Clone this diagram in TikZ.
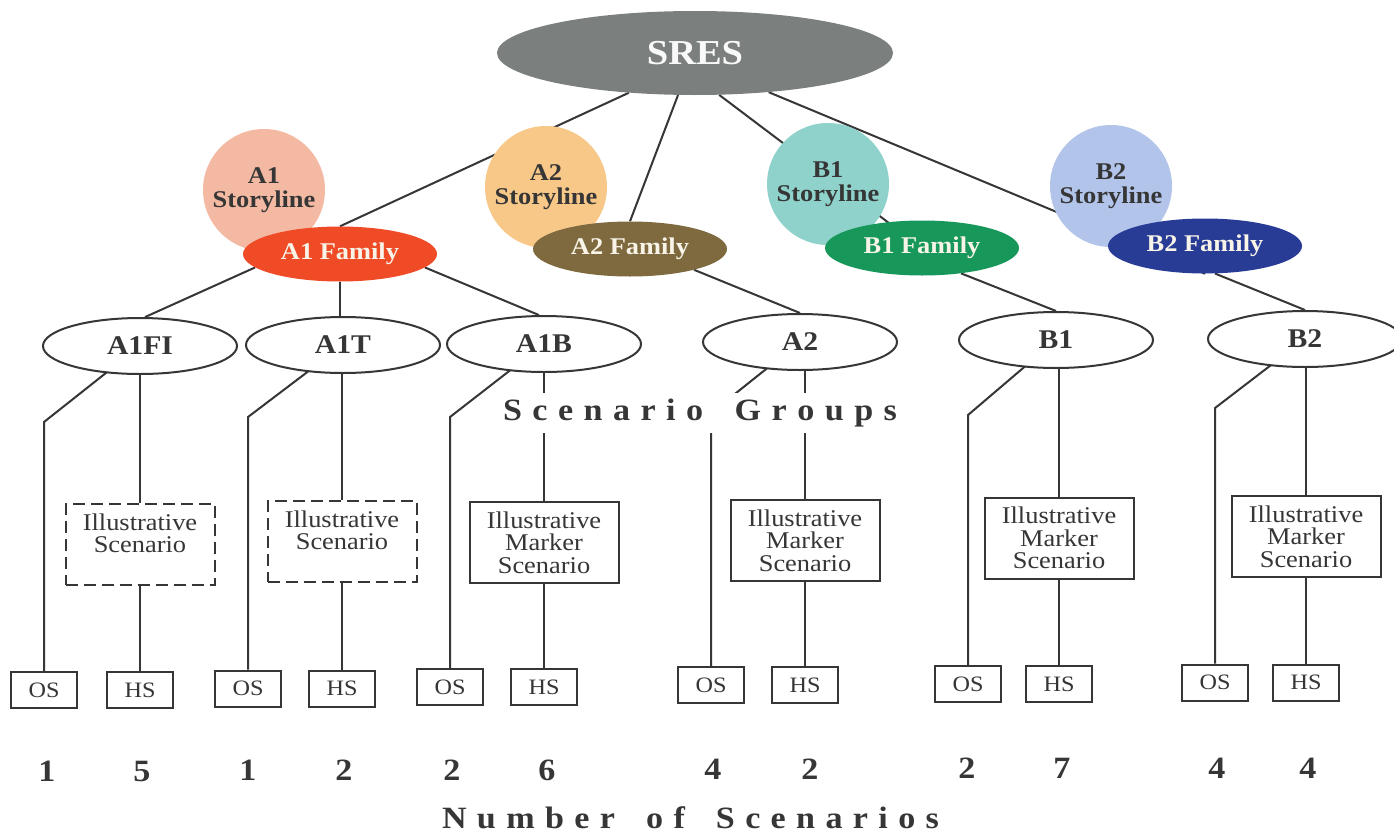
\documentclass[tikz,border=0pt]{standalone}
\usepackage{fontspec}
\setmainfont{Liberation Serif}[FakeStretch=1.1]
\usetikzlibrary{shapes.geometric,calc}
\pgfdeclarelayer{bg}
\pgfdeclarelayer{edges}
\pgfsetlayers{bg,edges,main}
\definecolor{ink}{HTML}{363636}
\definecolor{sresc}{HTML}{7B807F}
\definecolor{a1s}{HTML}{F3B9A2}
\definecolor{a2s}{HTML}{F8C889}
\definecolor{b1s}{HTML}{8ED2CB}
\definecolor{b2s}{HTML}{B3C4EA}
\definecolor{a1f}{HTML}{EE4B26}
\definecolor{a2f}{HTML}{7F6A40}
\definecolor{b1f}{HTML}{17985A}
\definecolor{b2f}{HTML}{283C96}
\definecolor{famtxt}{HTML}{F8F4E8}
\newcommand\LSg{\hskip 0pt plus 1fil}
\newcommand\WSg{\hskip 0pt plus 3fil}
\tikzset{
  conn/.style={draw=ink, line width=2pt},
  slnode/.style={circle, inner sep=0pt, minimum size=122pt, align=center,
    font=\fontsize{24}{24}\selectfont\bfseries, text=ink},
  famnode/.style={ellipse, inner sep=0pt, minimum width=194pt, minimum height=55pt,
    font=\fontsize{24}{24}\selectfont\bfseries, text=famtxt},
  grpnode/.style={ellipse, draw=ink, line width=2pt, fill=white, minimum width=194pt,
    minimum height=56pt, inner sep=0pt, font=\fontsize{27}{27}\selectfont\bfseries, text=ink},
  illbox/.style={rectangle, draw=ink, line width=2pt, fill=white, minimum width=149pt,
    minimum height=81pt, align=center, font=\fontsize{24}{22.5}\selectfont, text=ink, inner sep=0pt},
  illdash/.style={illbox, dash pattern=on 12pt off 6pt},
  smallbox/.style={rectangle, draw=ink, line width=2pt, fill=white, minimum width=66pt,
    minimum height=36pt, inner sep=0pt, font=\fontsize{22}{22}\selectfont, text=ink},
  numtxt/.style={anchor=base, inner sep=0pt, font=\fontsize{31}{31}\selectfont\bfseries, text=ink},
}
\begin{document}
\begin{tikzpicture}[x=1pt,y=-1pt]
\useasboundingbox (0,0) rectangle (1394,835);
\begin{pgfonlayer}{bg}
\fill[white] (0,0) rectangle (1394,835);
\end{pgfonlayer}

% storyline circles
\node[slnode, fill=a1s] (a1sl) at (264,190) {A1\\Storyline};
\node[slnode, fill=a2s] (a2sl) at (546,187) {A2\\Storyline};
\node[slnode, fill=b1s] (b1sl) at (828,184) {B1\\Storyline};
\node[slnode, fill=b2s] (b2sl) at (1111,186) {B2\\Storyline};

% families
\node[famnode, fill=a1f] (a1fam) at (340,254) {A1 Family};
\node[famnode, fill=a2f] (a2fam) at (630,249) {A2 Family};
\node[famnode, fill=b1f] (b1fam) at (922,248) {B1 Family};
\node[famnode, fill=b2f] (b2fam) at (1205,246) {B2 Family};

% root
\node[ellipse, fill=sresc, inner sep=0pt, minimum width=396pt, minimum height=84pt,
  font=\fontsize{35}{36}\selectfont\bfseries, text=white!95!gray] (sres) at (695,53) {SRES};

% scenario groups
\node[grpnode] (a1fi) at (140,346) {A1FI};
\node[grpnode] (a1t) at (343,345) {A1T};
\node[grpnode] (a1b) at (544,344) {A1B};
\node[grpnode] (a2) at (800,342) {A2};
\node[grpnode] (b1) at (1056,340) {B1};
\node[grpnode] (b2) at (1305,339) {B2};

% illustrative boxes
\node[illdash] (is1) at (140,544.5) {Illustrative\\Scenario\\\mbox{}};
\node[illdash] (is2) at (342,541.5) {Illustrative\\Scenario\\\mbox{}};
\node[illbox] (is3) at (544,542.5) {Illustrative\\Marker\\Scenario};
\node[illbox] (is4) at (805,540.5) {Illustrative\\Marker\\Scenario};
\node[illbox] (is5) at (1059,538) {Illustrative\\Marker\\Scenario};
\node[illbox] (is6) at (1306,536.5) {Illustrative\\Marker\\Scenario};

% OS / HS boxes
\node[smallbox] (os1) at (44,690) {OS};
\node[smallbox] (hs1) at (140,690) {HS};
\node[smallbox] (os2) at (248,688.5) {OS};
\node[smallbox] (hs2) at (342,688.5) {HS};
\node[smallbox] (os3) at (450,687) {OS};
\node[smallbox] (hs3) at (544,687) {HS};
\node[smallbox] (os4) at (711,685) {OS};
\node[smallbox] (hs4) at (805,685) {HS};
\node[smallbox] (os5) at (968,684) {OS};
\node[smallbox] (hs5) at (1059,684) {HS};
\node[smallbox] (os6) at (1215,682.5) {OS};
\node[smallbox] (hs6) at (1306,682.5) {HS};

% bend points
\coordinate (k1) at (44,422);
\coordinate (k2) at (248,417);
\coordinate (k3) at (450,417);
\coordinate (k4) at (711,413);
\coordinate (k5) at (968,415);
\coordinate (k6) at (1215,408);

% label Scenario Groups
\node[fill=white, inner xsep=6pt, inner ysep=0pt, minimum height=40pt, text height=22pt, text depth=7pt,
  font=\fontsize{31}{31}\selectfont\bfseries, text=ink] (sg) at (700,412.5)
  {\makebox[394pt][s]{S\LSg c\LSg e\LSg n\LSg a\LSg r\LSg i\LSg o\WSg G\LSg r\LSg o\LSg u\LSg p\LSg s}};

% numbers
\node[numtxt] (n1) at (47,781) {1};
\node[numtxt] (n2) at (142,781) {5};
\node[numtxt] (n3) at (248,780.5) {1};
\node[numtxt] (n4) at (344,780.5) {2};
\node[numtxt] (n5) at (452,780) {2};
\node[numtxt] (n6) at (547,780) {6};
\node[numtxt] (n7) at (713,779) {4};
\node[numtxt] (n8) at (810,779) {2};
\node[numtxt] (n9) at (967,778.5) {2};
\node[numtxt] (n10) at (1062,778.5) {7};
\node[numtxt] (n11) at (1217,778) {4};
\node[numtxt] (n12) at (1308,778) {4};

\node[numtxt] (nos) at (690.5,828)
  {\makebox[497pt][s]{N\LSg u\LSg m\LSg b\LSg e\LSg r\WSg o\LSg f\WSg S\LSg c\LSg e\LSg n\LSg a\LSg r\LSg i\LSg o\LSg s}};

\begin{pgfonlayer}{edges}
\draw[conn] (sres.211) -- (a1fam.north);
\draw[conn] (sres.248) -- (a2fam.north);
\draw[conn] (sres.300) -- (b1fam.center);
\draw[conn] (sres.332) -- (b2fam.south);
\draw[conn] (a1fam.189) -- (a1fi.80);
\draw[conn] (a1fam.south) -- (a1fam.south |- a1t.center);
\draw[conn] (a1fam.351) -- (a1b.100);
\draw[conn] (a2fam.342) -- (a2.north);
\draw[conn] (b1fam.327) -- (b1.north);
\draw[conn] (b2fam.290) -- (b2.north);
% OS branches
\draw[conn] (os1.north) -- (k1) -- (a1fi.center);
\draw[conn] (os2.north) -- (k2) -- (a1t.center);
\draw[conn] (os3.north) -- (k3) -- (a1b.center);
\draw[conn] (os4.north) -- (k4) -- (a2.center);
\draw[conn] (os5.north) -- (k5) -- (b1.center);
\draw[conn] (os6.north) -- (k6) -- (b2.center);
% HS branches
\draw[conn] (is1.north) -- (is1.north |- a1fi.center);
\draw[conn] (is2.north) -- (is2.north |- a1t.center);
\draw[conn] (is3.north) -- (is3.north |- a1b.center);
\draw[conn] (is4.north) -- (is4.north |- a2.center);
\draw[conn] (is5.north) -- (is5.north |- b1.center);
\draw[conn] (is6.north) -- (is6.north |- b2.center);
\draw[conn] (is1.south) -- (hs1.north);
\draw[conn] (is2.south) -- (hs2.north);
\draw[conn] (is3.south) -- (hs3.north);
\draw[conn] (is4.south) -- (hs4.north);
\draw[conn] (is5.south) -- (hs5.north);
\draw[conn] (is6.south) -- (hs6.north);
\end{pgfonlayer}
\end{tikzpicture}
\end{document}
